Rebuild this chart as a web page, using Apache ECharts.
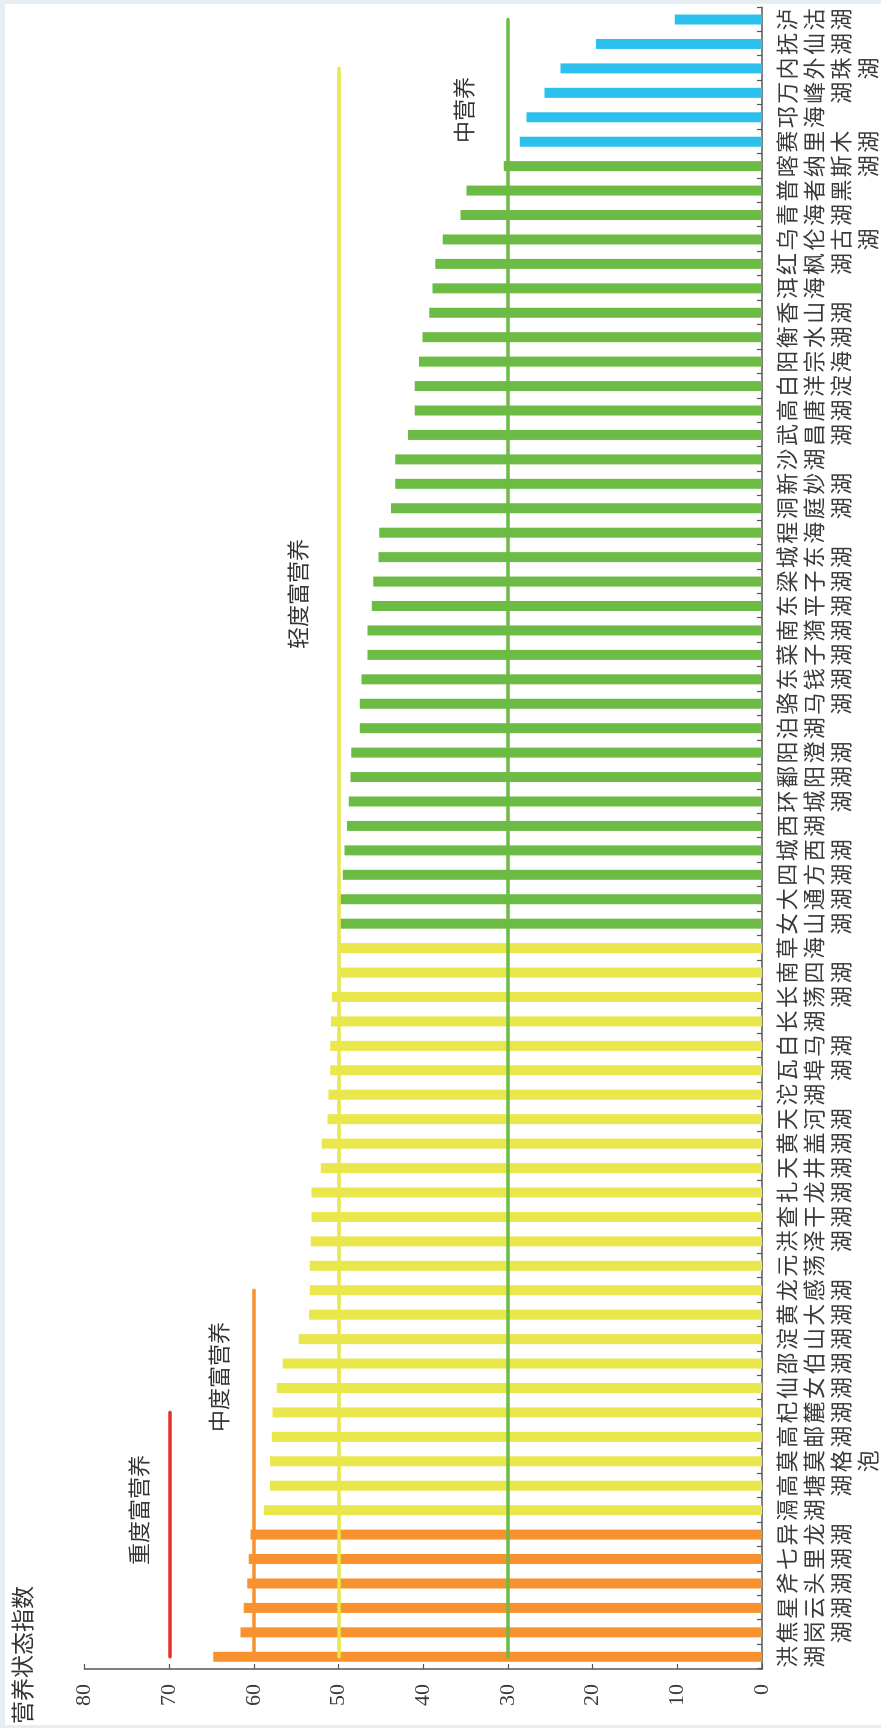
<!DOCTYPE html>
<html><head><meta charset="utf-8">
<script src="https://cdn.jsdelivr.net/npm/echarts@6/dist/echarts.min.js"></script>
<style>
html,body{margin:0;padding:0;width:881px;height:1728px;overflow:hidden;background:#fff;}
#chart{position:absolute;left:0;top:0;width:1728px;height:881px;transform-origin:0 0;transform:translate(0px,1728px) rotate(-90deg);background:#fff;}
#frame{position:absolute;left:0;top:0;width:881px;height:1728px;box-sizing:border-box;border-left:5px solid #e6eef3;border-top:4px solid #e6eef3;border-bottom:3px solid #e6eef3;pointer-events:none;}
</style></head>
<body><div id="chart"></div><div id="frame"></div>
<script>
// ---- data ----
const categories = ['洪湖','焦岗湖','星云湖','斧头湖','七里湖','异龙湖','滆湖','高塘湖','莫莫格泡','高邮湖',
  '杞麓湖','仙女湖','邵伯湖','淀山湖','黄大湖','龙感湖','元荡','洪泽湖','查干湖','扎龙湖',
  '天井湖','黄盖湖','天河湖','沱湖','瓦埠湖','白马湖','长湖','长荡湖','南四湖','草海',
  '女山湖','大通湖','四方湖','城西湖','西湖','环城湖','鄱阳湖','阳澄湖','泊湖','骆马湖',
  '东钱湖','菜子湖','南漪湖','东平湖','梁子湖','城东湖','程海','洞庭湖','新妙湖','沙湖',
  '武昌湖','高唐湖','白洋淀','阳宗海','衡水湖','香山湖','洱海','红枫湖','乌伦古湖','青海湖',
  '普者黑','喀纳斯湖','赛里木湖','邛海','万峰湖','内外珠湖','抚仙湖','泸沽湖'];
const trophicIndex = [64.8,61.6,61.2,60.8,60.6,60.4,58.8,58.1,58.1,57.9,
  57.8,57.3,56.6,54.7,53.5,53.4,53.4,53.3,53.2,53.2,
  52.1,52.0,51.3,51.2,51.0,51.0,50.9,50.8,50.1,50.1,
  49.8,49.8,49.5,49.3,49.0,48.8,48.6,48.5,47.5,47.5,
  47.3,46.6,46.6,46.1,45.9,45.3,45.2,43.8,43.3,43.3,
  41.8,41.0,41.0,40.5,40.1,39.3,38.9,38.6,37.7,35.6,
  34.9,30.5,28.6,27.8,25.7,23.8,19.6,10.3];
const valueAxisMin = 0, valueAxisMax = 80, valueAxisStep = 10;
const axisTitle = '营养状态指数';
// reference levels
const levelNames = ['重度富营养','中度富营养','轻度富营养','中营养'];
const levelValues = [70, 60, 50, 30];
const levelEndCategory = ['杞麓湖','龙感湖','内外珠湖','泸沽湖'];

// ---- styles ----
const levelColors = ['#e8302b','#f7922f','#e9e74b','#6cbb45'];
const barColors = {orange:'#f7922f', yellow:'#e9e74b', green:'#6cbb45', blue:'#2cc1ec'};
function barColor(v){
  if (v >= 60) return barColors.orange;
  if (v >= 50) return barColors.yellow;
  if (v >= 30) return barColors.green;
  return barColors.blue;
}
// label pixel positions in the (unrotated) chart frame
const levelLabelPos = [[218,139],[351,219],[1134,298],[1618,464]];

const chart = echarts.init(document.getElementById('chart'), null, {width:1728, height:881, renderer:'canvas'});
const cjk = '"Noto Sans CJK SC", "Noto Sans", sans-serif';
const option = {
  animation:false,
  backgroundColor:'#fff',
  grid:{left:59, right:7.3, top:84.6, bottom:114, containLabel:false},
  xAxis:{
    type:'category', data:categories, boundaryGap:true,
    axisLine:{show:true, lineStyle:{color:'#555', width:1.5}},
    axisTick:{show:true, inside:true, length:5, interval:0, lineStyle:{color:'#555', width:1.2}},
    axisLabel:{interval:0, hideOverlap:false, margin:11, fontSize:22, lineHeight:27, color:'#3a3a3a',
      fontFamily:cjk, formatter:v => v.split('').join('\n')},
    splitLine:{show:false}
  },
  yAxis:{
    type:'value', min:valueAxisMin, max:valueAxisMax, interval:valueAxisStep,
    axisLine:{show:true, lineStyle:{color:'#555', width:1.5}},
    axisTick:{show:true, inside:true, length:5, lineStyle:{color:'#555', width:1.2}},
    axisLabel:{margin:15, fontSize:22, color:'#3a3a3a', fontFamily:'"Liberation Serif", serif'},
    splitLine:{show:false}
  },
  series:[{
    type:'bar', barWidth:10,
    data: trophicIndex.map(v => ({value:v, itemStyle:{color:barColor(v)}})),
    markLine:{
      silent:true, symbol:['none','none'], label:{show:false},
      data: levelValues.map((v,i) => [
        {coord:[categories[0], v], lineStyle:{color:levelColors[i], width:3.5, type:'solid', cap:'round'}},
        {coord:[levelEndCategory[i], v]}
      ])
    }
  }],
  graphic: [
    {type:'text', left:4, top:11, style:{text:axisTitle, font:'23px ' + cjk, fill:'#333'}}
  ].concat(levelNames.map((t,i) => ({
    type:'text', x:levelLabelPos[i][0], y:levelLabelPos[i][1],
    style:{text:t, font:'22px ' + cjk, fill:'#333', textAlign:'center', textVerticalAlign:'middle'}
  })))
};
chart.setOption(option);
</script>
</body></html>
